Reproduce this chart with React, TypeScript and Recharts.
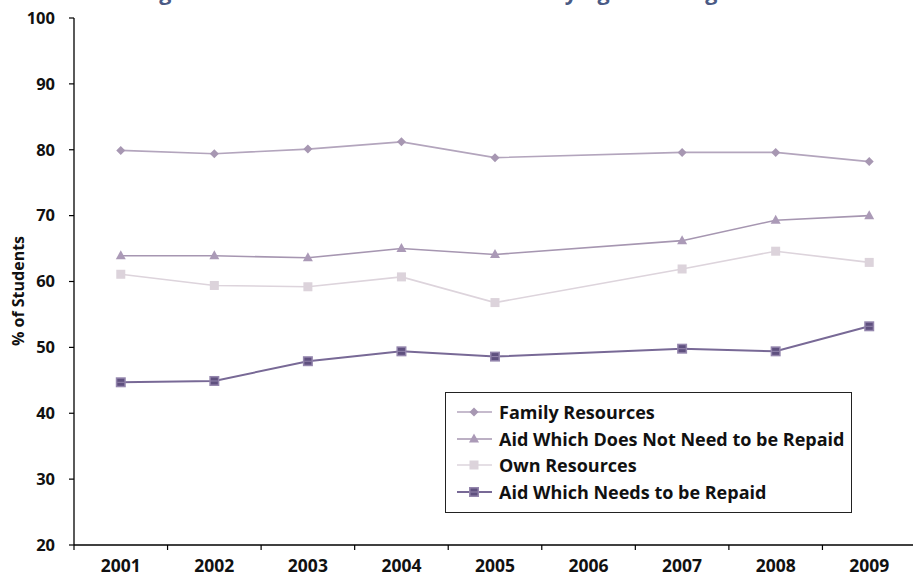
import React from 'react';
import { ComposedChart, Line, XAxis, YAxis, Legend } from 'recharts';

const years = ['2001', '2002', '2003', '2004', '2005', '2006', '2007', '2008', '2009'];
const familyResources = [79.9, 79.4, 80.1, 81.2, 78.8, null, 79.6, 79.6, 78.2];
const aidNotRepaid = [63.9, 63.9, 63.6, 65.0, 64.1, null, 66.2, 69.3, 70.0];
const ownResources = [61.1, 59.4, 59.2, 60.7, 56.8, null, 61.9, 64.6, 62.9];
const aidRepaid = [44.7, 44.9, 47.9, 49.4, 48.6, null, 49.8, 49.4, 53.2];
const yTicks = [20, 30, 40, 50, 60, 70, 80, 90, 100];

const seriesNames = {
  family: 'Family Resources',
  notRepaid: 'Aid Which Does Not Need to be Repaid',
  own: 'Own Resources',
  repaid: 'Aid Which Needs to be Repaid',
};

const data = years.map((y, i) => ({
  year: y,
  family: familyResources[i],
  notRepaid: aidNotRepaid[i],
  own: ownResources[i],
  repaid: aidRepaid[i],
}));

const FONT = "'Open Sans', 'Noto Sans', sans-serif";
const CHART_W = 916;
const CHART_H = 575;
const Y_AXIS_W = 74;
const MARGIN = { top: 18, right: 0, bottom: 0, left: 0 };
const BAND = (CHART_W - MARGIN.left - MARGIN.right - Y_AXIS_W) / years.length;

const COLORS = {
  family: '#b3a5bd',
  familyDot: '#a797b2',
  notRepaid: '#a696b1',
  notRepaidDot: '#ab9ab7',
  own: '#ddd4dc',
  ownDot: '#dcd3db',
  repaid: '#786996',
};

const Diamond = ({ cx, cy, color }: any) =>
  cx == null || cy == null ? null : (
    <polygon points={`${cx},${cy - 4.5} ${cx + 4.5},${cy} ${cx},${cy + 4.5} ${cx - 4.5},${cy}`} fill={color} />
  );
const Triangle = ({ cx, cy, color }: any) =>
  cx == null || cy == null ? null : (
    <polygon points={`${cx},${cy - 5.5} ${cx + 5},${cy + 3.5} ${cx - 5},${cy + 3.5}`} fill={color} />
  );
const Square = ({ cx, cy, color }: any) =>
  cx == null || cy == null ? null : <rect x={cx - 4.5} y={cy - 4.5} width={9} height={9} fill={color} />;
const DarkSquare = ({ cx, cy }: any) =>
  cx == null || cy == null ? null : (
    <g>
      <rect x={cx - 5} y={cy - 5} width={10} height={10} fill="#9486ad" />
      <rect x={cx - 3.5} y={cy - 3.5} width={7} height={7} fill="#5f507f" />
      <line x1={cx - 3.5} x2={cx + 3.5} y1={cy} y2={cy} stroke="#9486ad" strokeWidth={1} />
    </g>
  );

const XTick = (props: any) => {
  const { x, y, payload } = props;
  const lx = x - BAND / 2;
  const axisY = y - 15;
  return (
    <g>
      <line x1={lx} x2={lx} y1={axisY} y2={axisY + 5} stroke="#000" strokeWidth={1.2} />
      <text x={x} y={y} dy="0.71em" textAnchor="middle" fontFamily={FONT} fontWeight={700} fontSize={17.5} fill="#111">
        {payload.value}
      </text>
    </g>
  );
};

const legendItems = [
  { key: 'family', color: COLORS.family, marker: (c: number) => <Diamond cx={18} cy={c} color={COLORS.familyDot} /> },
  { key: 'notRepaid', color: COLORS.notRepaid, marker: (c: number) => <Triangle cx={18} cy={c} color={COLORS.notRepaidDot} /> },
  { key: 'own', color: COLORS.own, marker: (c: number) => <Square cx={18} cy={c} color={COLORS.ownDot} /> },
  { key: 'repaid', color: COLORS.repaid, marker: (c: number) => <DarkSquare cx={18} cy={c} /> },
];

const LegendBox = () => (
  <div
    style={{
      width: 405,
      height: 113,
      border: '1.5px solid #222',
      background: '#fff',
      boxSizing: 'content-box',
      paddingTop: 6,
    }}
  >
    {legendItems.map((it) => (
      <div key={it.key} style={{ display: 'flex', alignItems: 'center', height: 26.6 }}>
        <svg width={50} height={20} style={{ marginLeft: 10, flex: 'none' }}>
          <line x1={1} x2={36} y1={10} y2={10} stroke={it.color} strokeWidth={it.key === 'repaid' ? 2 : 1.6} />
          {it.marker(10)}
        </svg>
        <span
          style={{
            marginLeft: -7,
            fontFamily: FONT,
            fontWeight: 700,
            fontSize: 18,
            color: '#111',
            whiteSpace: 'nowrap',
          }}
        >
          {(seriesNames as any)[it.key]}
        </span>
      </div>
    ))}
  </div>
);

export default function App() {
  return (
    <div style={{ position: 'absolute', left: 0, top: 0, width: 913, height: 575, overflow: 'hidden', background: '#fff' }}>
      <ComposedChart width={CHART_W} height={CHART_H} data={data} margin={MARGIN}>
        <text x={141} y={-0.5} fontFamily={FONT} fontWeight={700} fontSize={21.5} fill="#4a5a85">
          Figure 3: How Full-Time Students are Paying for College
        </text>
        <XAxis
          dataKey="year"
          scale="band"
          height={30}
          interval={0}
          tickLine={false}
          tickSize={5}
          tickMargin={10}
          axisLine={{ stroke: '#000', strokeWidth: 1.3 }}
          tick={<XTick />}
        />
        <YAxis
          width={Y_AXIS_W}
          domain={[20, 100]}
          ticks={yTicks}
          interval={0}
          tickSize={5}
          tickMargin={14}
          axisLine={{ stroke: '#000', strokeWidth: 1.3 }}
          tickLine={{ stroke: '#000', strokeWidth: 1.2 }}
          tick={{ fontFamily: FONT, fontWeight: 700, fontSize: 16.5, fill: '#111' }}
          label={{
            content: () => (
              <text
                x={18}
                y={291}
                transform="rotate(-90 18 291)"
                textAnchor="middle"
                dominantBaseline="central"
                fontFamily={FONT}
                fontWeight={700}
                fontSize={16}
                fill="#111"
              >
                % of Students
              </text>
            ),
          }}
        />
        <Legend
          layout="vertical"
          align="center"
          verticalAlign="middle"
          wrapperStyle={{ left: 445, top: 392, width: 410, height: 122 }}
          content={() => <LegendBox />}
        />
        <Line
          type="linear"
          dataKey="family"
          name={seriesNames.family}
          stroke={COLORS.family}
          strokeWidth={1.6}
          connectNulls
          isAnimationActive={false}
          dot={(p: any) => <Diamond key={`f${p.index}`} {...p} color={COLORS.familyDot} />}
          activeDot={false}
        />
        <Line
          type="linear"
          dataKey="notRepaid"
          name={seriesNames.notRepaid}
          stroke={COLORS.notRepaid}
          strokeWidth={1.6}
          connectNulls
          isAnimationActive={false}
          dot={(p: any) => <Triangle key={`n${p.index}`} {...p} color={COLORS.notRepaidDot} />}
          activeDot={false}
        />
        <Line
          type="linear"
          dataKey="own"
          name={seriesNames.own}
          stroke={COLORS.own}
          strokeWidth={1.6}
          connectNulls
          isAnimationActive={false}
          dot={(p: any) => <Square key={`o${p.index}`} {...p} color={COLORS.ownDot} />}
          activeDot={false}
        />
        <Line
          type="linear"
          dataKey="repaid"
          name={seriesNames.repaid}
          stroke={COLORS.repaid}
          strokeWidth={2}
          connectNulls
          isAnimationActive={false}
          dot={(p: any) => <DarkSquare key={`r${p.index}`} {...p} />}
          activeDot={false}
        />
      </ComposedChart>
    </div>
  );
}
